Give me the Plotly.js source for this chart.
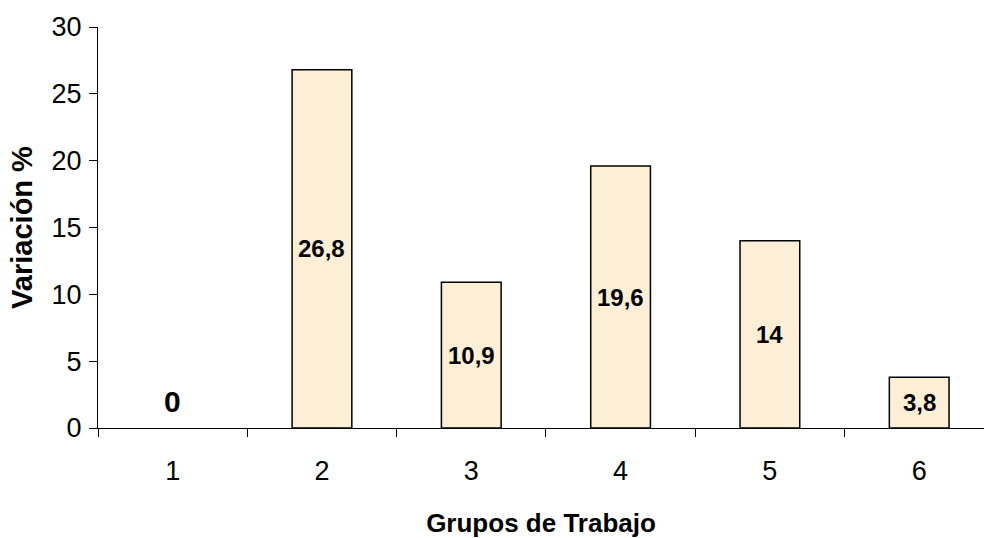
<!DOCTYPE html>
<html>
<head>
<meta charset="utf-8">
<script src="https://cdn.plot.ly/plotly-3.0.1.min.js"></script>
<style>html,body{margin:0;padding:0;background:#fff;}#chart{width:984px;height:538px;}</style>
</head>
<body>
<div id="chart"></div>
<script>
const categories = [1, 2, 3, 4, 5, 6];
const values = [0, 26.8, 10.9, 19.6, 14, 3.8];
const yTicks = [0, 5, 10, 15, 20, 25, 30];
const xTitle = "Grupos de Trabajo";
const yTitle = "Variación %";

const FONT = "Liberation Sans, Arial, sans-serif";
const fmt = v => String(v).replace('.', ',');

const bars = {
  type: 'bar',
  x: categories,
  y: values,
  width: 0.4,
  marker: {color: '#FCEFD6', line: {color: '#000', width: values.map(v => v === 0 ? 0 : 1.5)}},
  hoverinfo: 'skip',
  showlegend: false
};

// invisible trace carrying the category labels on an overlaying axis
const labelAxisTrace = {
  type: 'scatter', mode: 'markers', x: categories, y: values.map(() => 0),
  xaxis: 'x2', marker: {opacity: 0}, hoverinfo: 'skip', showlegend: false
};

const annotations = categories.map((c, i) => ({
  x: c, y: values[i] / 2, xref: 'x', yref: 'y',
  text: '<b>' + fmt(values[i]) + '</b>',
  showarrow: false,
  yshift: values[i] === 0 ? 27 : 0,
  font: {family: FONT, size: values[i] === 0 ? 30 : 24, color: '#000'}
}));

const boundaries = categories.map(c => c - 0.5);

const layout = {
  width: 984, height: 538,
  margin: {l: 98, r: 0, t: 27, b: 110},
  paper_bgcolor: '#fff', plot_bgcolor: '#fff',
  font: {family: FONT, color: '#000'},
  showlegend: false,
  xaxis: {
    range: [0.5, 6.434], fixedrange: true,
    tickvals: boundaries, ticktext: boundaries.map(() => ''),
    ticks: 'outside', ticklen: 8, tickwidth: 1, tickcolor: '#000',
    showline: true, linecolor: '#000', linewidth: 1,
    showgrid: false, zeroline: false
  },
  xaxis2: {
    overlaying: 'x', matches: 'x', side: 'bottom',
    tickvals: categories, ticktext: categories.map(String),
    ticks: '', showline: false, showgrid: false, zeroline: false,
    tickfont: {family: FONT, size: 27, color: '#000'},
    ticklabelstandoff: 24,
    title: {text: '<b>' + xTitle + '</b>', font: {family: FONT, size: 26, color: '#000'}, standoff: 28}
  },
  yaxis: {
    range: [0, 30], fixedrange: true,
    tickvals: yTicks, ticktext: yTicks.map(String),
    ticks: 'outside', ticklen: 8, tickwidth: 1, tickcolor: '#000',
    showline: true, linecolor: '#000', linewidth: 1,
    showgrid: false, zeroline: false,
    tickfont: {family: FONT, size: 27, color: '#000'},
    ticklabelstandoff: 2,
    title: {text: '<b>' + yTitle + '</b>', font: {family: FONT, size: 29, color: '#000'}, standoff: 10}
  },
  annotations: annotations
};

Plotly.newPlot('chart', [bars, labelAxisTrace], layout, {staticPlot: true, displayModeBar: false});
</script>
</body>
</html>
